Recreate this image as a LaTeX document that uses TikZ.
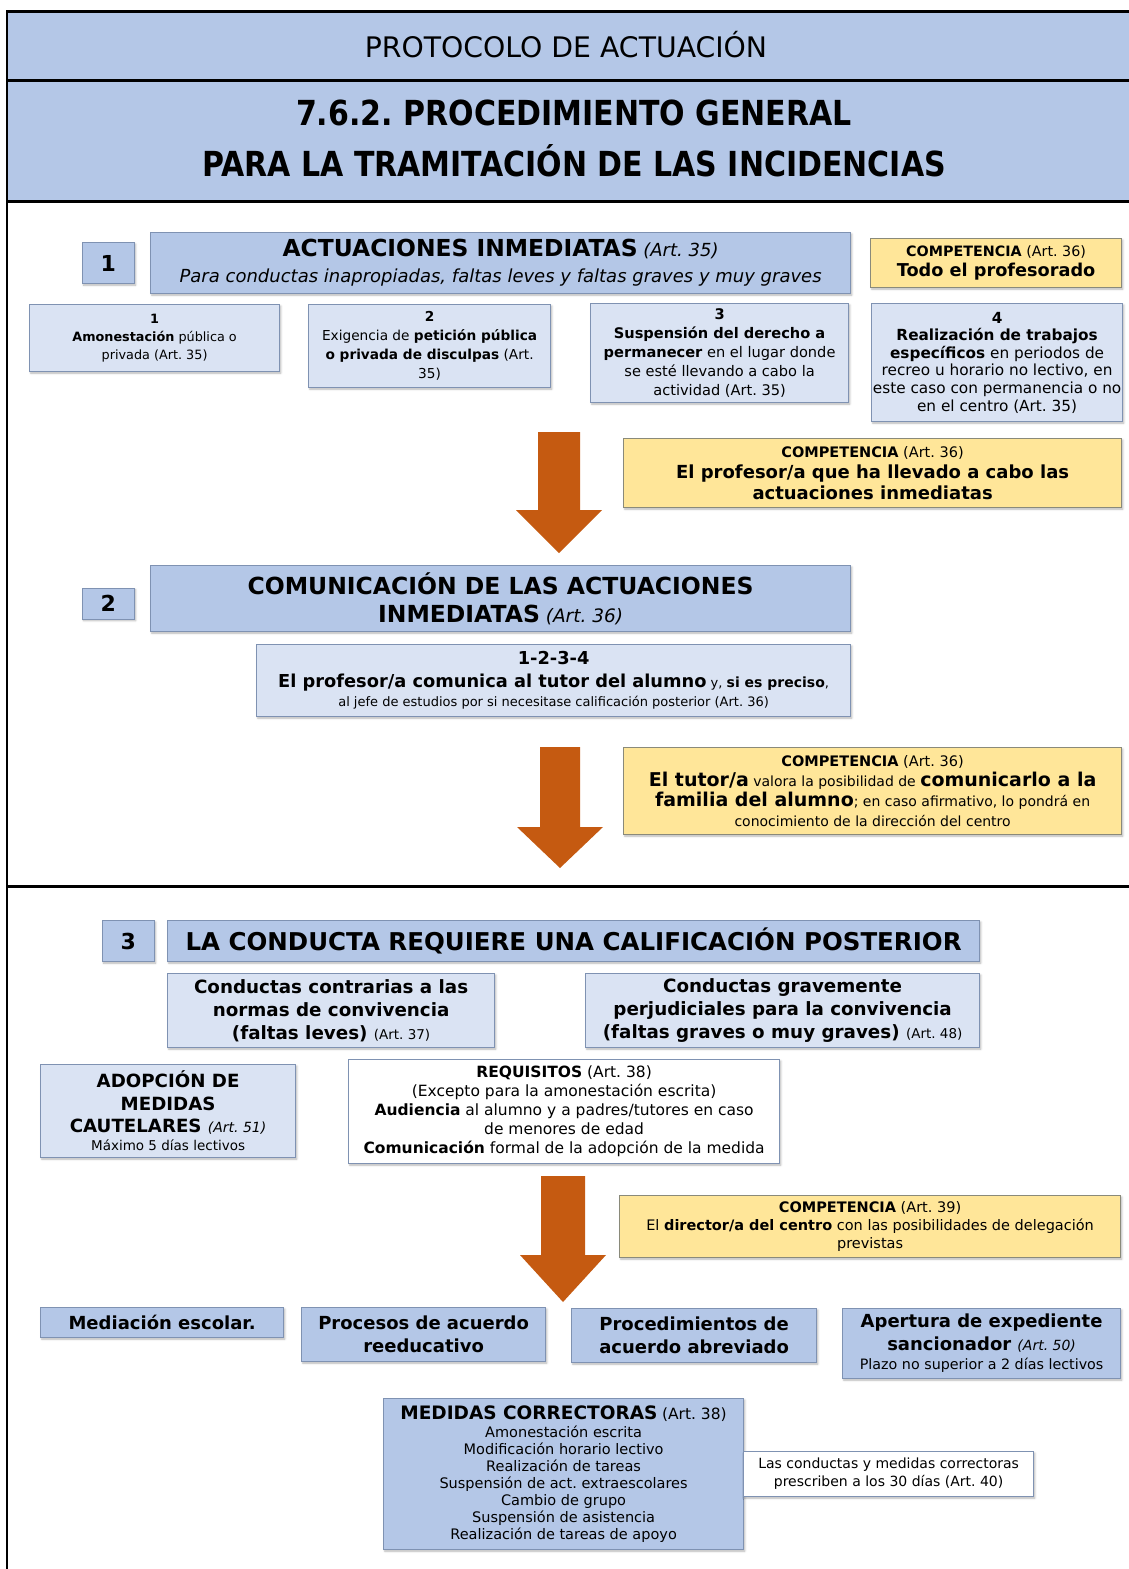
\documentclass[tikz,border=0pt]{standalone}
\usepackage{fontspec}
\setmainfont{DejaVu Sans}
\newfontfamily\narrowfont{DejaVu Sans}[FakeStretch=0.87]
\usetikzlibrary{positioning, shadows.blur}
\newcommand{\fsz}[2]{\fontsize{#1}{#2}\selectfont}
\frenchspacing
\definecolor{hdblue}{HTML}{B4C7E7}
\definecolor{boxblue}{HTML}{B4C7E7}
\definecolor{paleblue}{HTML}{DAE3F3}
\definecolor{paleyellow}{HTML}{FFE699}
\definecolor{edgeblue}{HTML}{7F92B2}
\definecolor{edgegray}{HTML}{8A8A7A}
\definecolor{arrorange}{HTML}{C55A11}

\begin{document}
\begin{tikzpicture}[x=1pt, y=-1pt]
    \tikzset{
      bx/.style={draw=edgeblue, fill=boxblue,
                 %line width=1pt,
                 line width=1.2pt, inner sep=0pt,
                 align=center, anchor=north west},
      lbx/.style={bx, fill=paleblue},
      ybx/.style={bx, draw=edgegray, fill=paleyellow},
      wbx/.style={bx, fill=white},
      numbx/.style={bx, minimum width=52pt, minimum height=41pt,
                    font=\fsz{22}{26}\bfseries},
      shd/.style={blur shadow={shadow blur steps=5, shadow xshift=1.2pt,
                  shadow yshift=-1.5pt, shadow blur radius=2pt, shadow opacity=30}},
      frame/.style={line width=3pt},
      bigarr/.style={fill=arrorange}
    }
    \useasboundingbox (0,0) rectangle (1129,1569);

    % title bands
    \fill[hdblue] (7,11) rectangle (1129,201);
    \draw[frame] (7,11) -- (1129,11);
    \draw[frame] (7,80) -- (1129,80);
    \draw[frame] (7,201) -- (1129,201);
    \draw[frame] (7,886) -- (1129,886);
    \draw[line width=2pt] (7,10) -- (7,1569);

    \node[font=\fsz{28.3}{34}, anchor=base] (proto) at (566,57) {PROTOCOLO DE ACTUACIÓN};
    \node[font=\narrowfont\fsz{34.5}{51}\bfseries, align=center] (title) at (574,138)
        {7.6.2. PROCEDIMIENTO GENERAL\\PARA LA TRAMITACIÓN DE LAS INCIDENCIAS};

    % step 1
    \node[bx, shd, minimum width=700pt, minimum height=61pt, font=\fsz{18}{26}] (act) at (150,232)
        {{\fsz{23.4}{26}\bfseries ACTUACIONES INMEDIATAS} \textit{(Art. 35)}\\
         \textit{Para conductas inapropiadas, faltas leves y faltas graves y muy graves}};
    \node[numbx, shd, left=15pt of act] (n1) {1};
    \node[ybx, shd, minimum width=251pt, minimum height=49pt, font=\fsz{14.3}{20}] (comp1) at (870,238)
        {\textbf{COMPETENCIA} (Art. 36)\\{\fsz{17.7}{20}\bfseries Todo el profesorado}};

    \node[lbx, shd, minimum width=250pt, minimum height=67pt, font=\fsz{12.8}{18}] (act1) at (29,304)
        {\textbf{1}\\\textbf{Amonestación} pública o\\privada (Art. 35)};
    \node[lbx, shd, minimum width=242pt, minimum height=83pt, font=\fsz{13.7}{19}] (act2) at (308,304)
        {\textbf{2}\\Exigencia de \textbf{petición pública}\\\textbf{o privada de disculpas} (Art.\\35)};
    \node[lbx, shd, minimum width=258pt, minimum height=99pt, font=\fsz{14.6}{19}] (act3) at (590,303)
        {\textbf{3}\\\textbf{Suspensión del derecho a}\\\textbf{permanecer} en el lugar donde\\se esté llevando a cabo la\\actividad (Art. 35)};
    \node[lbx, shd, minimum width=251pt, minimum height=118pt, font=\fsz{15.3}{17.6}] (act4) at (871,303)
        {\textbf{4}\\\textbf{Realización de trabajos}\\\textbf{específicos} en periodos de\\recreo u horario no lectivo, en\\este caso con permanencia o no\\en el centro (Art. 35)};

    \coordinate (a1t) at (559,432);
    \coordinate (a1b) at (559,553);
    \fill[bigarr] ([xshift=-21pt]a1t) -- ([xshift=21pt]a1t) -- ++(0,78) -- ++(22,0)
        -- (a1b) -- ++(-43,-43) -- ++(22,0) -- cycle;
    \node[ybx, shd, minimum width=498pt, minimum height=69pt, font=\fsz{14.5}{21}] (comp2) at (623,438)
        {\textbf{COMPETENCIA} (Art. 36)\\{\fsz{18}{21}\bfseries El profesor/a que ha llevado a cabo las}\\
         {\fsz{18}{21}\bfseries actuaciones inmediatas}};

    % step 2
    \node[bx, shd, minimum width=700pt, minimum height=66pt, font=\fsz{18.5}{28}] (com) at (150,565)
        {{\fsz{23.5}{28}\bfseries COMUNICACIÓN DE LAS ACTUACIONES}\\
         {\fsz{23.5}{28}\bfseries INMEDIATAS} \textit{(Art. 36)}};
    \node[numbx, shd, minimum height=31pt, left=15pt of com, yshift=-5pt] (n2) {2};
    \node[lbx, shd, minimum width=594pt, minimum height=72pt, font=\fsz{13}{19}] (com4) at (256,644)
        {{\fsz{17.8}{19}\bfseries 1-2-3-4}\\[4pt]
         {\fsz{17.8}{19}\bfseries El profesor/a comunica al tutor del alumno} y, {\fsz{14}{19}\bfseries si es preciso},\\
         al jefe de estudios por si necesitase calificación posterior (Art. 36)};

    \coordinate (a2t) at (560,747);
    \coordinate (a2b) at (560,868);
    \fill[bigarr] ([xshift=-20pt]a2t) -- ([xshift=20pt]a2t) -- ++(0,80) -- ++(23,0)
        -- (a2b) -- ++(-43,-41) -- ++(23,0) -- cycle;
    \node[ybx, shd, minimum width=498pt, minimum height=87pt, font=\fsz{14}{20}] (comp3) at (623,747)
        {{\fsz{14.5}{20}\textbf{COMPETENCIA} (Art. 36)}\\
         {\fsz{19}{20}\bfseries El tutor/a} valora la posibilidad de {\fsz{19}{20}\bfseries comunicarlo a la}\\
         {\fsz{19}{20}\bfseries familia del alumno}; en caso afirmativo, lo pondrá en\\
         conocimiento de la dirección del centro};

    % step 3
    \node[bx, shd, minimum width=812pt, minimum height=41pt, font=\fsz{24.5}{28}\bfseries] (calif) at (167,920)
        {LA CONDUCTA REQUIERE UNA CALIFICACIÓN POSTERIOR};
    \node[numbx, shd, left=12pt of calif] (n3) {3};

    \node[lbx, shd, minimum width=327pt, minimum height=74pt, font=\fsz{18.3}{23}\bfseries] (leves) at (167,973)
        {Conductas contrarias a las\\normas de convivencia\\(faltas leves) {\mdseries\fsz{13.5}{23}(Art. 37)}};
    \node[lbx, shd, minimum width=394pt, minimum height=74pt, font=\fsz{18.3}{23}\bfseries] (graves) at (585,973)
        {Conductas gravemente\\perjudiciales para la convivencia\\(faltas graves o muy graves) {\mdseries\fsz{13.5}{23}(Art. 48)}};

    \node[lbx, shd, minimum width=255pt, minimum height=93pt, font=\fsz{18.2}{22.5}\bfseries] (caut) at (40,1064)
        {ADOPCIÓN DE\\MEDIDAS\\CAUTELARES {\mdseries\itshape\fsz{14}{22.5}(Art. 51)}\\[-4.5pt]
         {\mdseries\fsz{13.5}{18}Máximo 5 días lectivos}};
    \node[wbx, shd, minimum width=431pt, minimum height=104pt, font=\fsz{15.5}{19}] (req) at (348,1059)
        {\textbf{REQUISITOS} (Art. 38)\\(Excepto para la amonestación escrita)\\
         \textbf{Audiencia} al alumno y a padres/tutores en caso\\de menores de edad\\
         \textbf{Comunicación} formal de la adopción de la medida};

    \coordinate (a3t) at (563,1176);
    \coordinate (a3b) at (563,1302);
    \fill[bigarr] ([xshift=-22pt]a3t) -- ([xshift=22pt]a3t) -- ++(0,79) -- ++(21,0)
        -- (a3b) -- ++(-43,-47) -- ++(21,0) -- cycle;
    \node[ybx, shd, minimum width=501pt, minimum height=62pt, font=\fsz{14.5}{18}] (comp4) at (619,1195)
        {\textbf{COMPETENCIA} (Art. 39)\\El \textbf{director/a del centro} con las posibilidades de delegación\\previstas};

    \node[bx, shd, minimum width=243pt, minimum height=30pt, font=\fsz{18}{23}\bfseries] (medi) at (40,1307)
        {Mediación escolar.};
    \node[bx, shd, minimum width=244pt, minimum height=54pt, font=\fsz{18}{23}\bfseries] (reedu) at (301,1307)
        {Procesos de acuerdo\\reeducativo};
    \node[bx, shd, minimum width=245pt, minimum height=54pt, font=\fsz{18}{23}\bfseries] (abrev) at (571,1308)
        {Procedimientos de\\acuerdo abreviado};
    \node[bx, shd, minimum width=278pt, minimum height=70pt, font=\fsz{18}{23}\bfseries] (exped) at (842,1308)
        {Apertura de expediente\\sancionador {\mdseries\itshape\fsz{14}{23}(Art. 50)}\\[-4pt]
         {\mdseries\fsz{14.3}{19}Plazo no superior a 2 días lectivos}};

    \node[bx, shd, minimum width=360pt, minimum height=151pt, font=\fsz{14.5}{17}] (medc) at (383,1398)
        {{\fsz{18.5}{17}\bfseries MEDIDAS CORRECTORAS} {\fsz{15.5}{17}(Art. 38)}\\[1pt]
         Amonestación escrita\\Modificación horario lectivo\\Realización de tareas\\
         Suspensión de act. extraescolares\\Cambio de grupo\\Suspensión de asistencia\\
         Realización de tareas de apoyo};
    \node[wbx, shd, minimum width=290pt, minimum height=45pt, font=\fsz{14}{18}, right=-1.2pt of medc] (presc)
        {Las conductas y medidas correctoras\\prescriben a los 30 días (Art. 40)};

\end{tikzpicture}
\end{document}
